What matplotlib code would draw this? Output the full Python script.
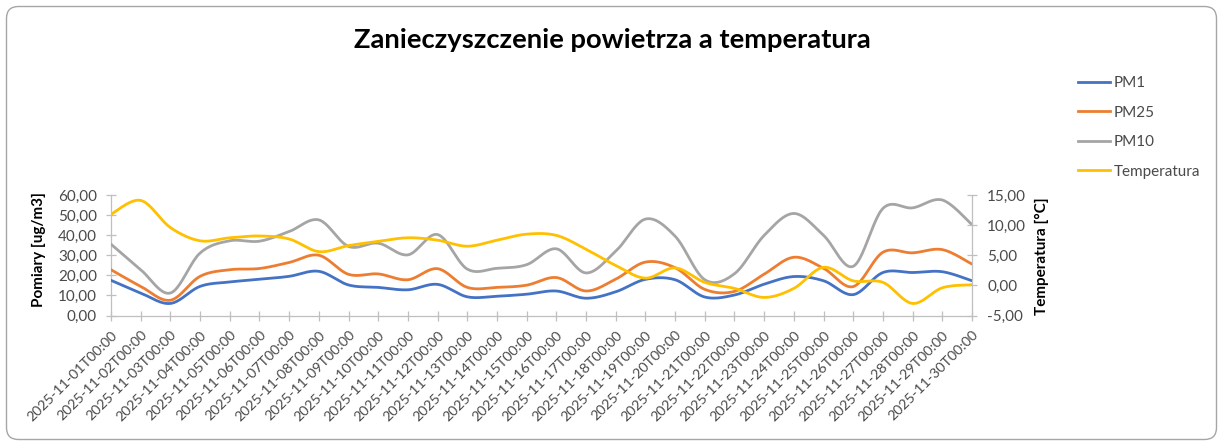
import numpy as np
import matplotlib
matplotlib.use('Agg')
import matplotlib.pyplot as plt
from matplotlib.patches import FancyBboxPatch
from matplotlib.transforms import IdentityTransform, ScaledTranslation
from matplotlib.lines import Line2D
from matplotlib.ticker import FuncFormatter

plt.rcParams['font.family'] = ['Lato', 'DejaVu Sans']

dates = ["2025-11-01T00:00", "2025-11-02T00:00", "2025-11-03T00:00", "2025-11-04T00:00",
         "2025-11-05T00:00", "2025-11-06T00:00", "2025-11-07T00:00", "2025-11-08T00:00",
         "2025-11-09T00:00", "2025-11-10T00:00", "2025-11-11T00:00", "2025-11-12T00:00",
         "2025-11-13T00:00", "2025-11-14T00:00", "2025-11-15T00:00", "2025-11-16T00:00",
         "2025-11-17T00:00", "2025-11-18T00:00", "2025-11-19T00:00", "2025-11-20T00:00",
         "2025-11-21T00:00", "2025-11-22T00:00", "2025-11-23T00:00", "2025-11-24T00:00",
         "2025-11-25T00:00", "2025-11-26T00:00", "2025-11-27T00:00", "2025-11-28T00:00",
         "2025-11-29T00:00", "2025-11-30T00:00"]

pm1 = [17.5, 11.2, 6.0, 14.5, 16.7, 18.0, 19.5, 22.0, 15.2, 14.0,
       12.8, 15.5, 9.3, 9.6, 10.6, 12.2, 8.6, 11.8, 18.0, 17.8,
       9.2, 10.2, 15.6, 19.4, 17.3, 10.4, 21.4, 21.4, 21.8, 17.3]
pm25 = [22.8, 14.5, 7.6, 19.5, 22.8, 23.4, 26.4, 30.0, 20.5, 20.7,
        17.8, 23.3, 14.0, 14.0, 15.1, 18.9, 12.2, 18.1, 26.6, 23.8,
        13.0, 12.0, 20.6, 29.0, 23.5, 14.4, 31.5, 31.2, 32.8, 25.6]
pm10 = [35.5, 22.8, 11.2, 31.1, 37.2, 37.0, 41.8, 47.6, 34.4, 36.0,
        30.2, 40.3, 23.1, 23.5, 25.3, 33.2, 21.2, 32.0, 48.0, 39.5,
        17.8, 20.8, 39.9, 50.8, 39.9, 24.5, 53.3, 53.6, 57.5, 45.2]
temp = [11.8, 14.1, 9.6, 7.4, 7.9, 8.2, 7.7, 5.6, 6.6, 7.3,
        7.9, 7.5, 6.5, 7.5, 8.5, 8.3, 6.0, 3.3, 1.2, 2.9,
        0.5, -0.5, -2.0, -0.5, 3.0, 0.75, 0.5, -3.0, -0.4, 0.1]

series_names = ["PM1", "PM25", "PM10", "Temperatura"]
colors = ["#4472C4", "#ED7D31", "#A5A5A5", "#FFC000"]


def smooth(vals, steps=24):
    """Catmull-Rom style Bezier smoothing (like Excel 'smoothed line')."""
    y = np.asarray(vals, float)
    x = np.arange(len(y), dtype=float)
    n = len(y)
    t = np.linspace(0, 1, steps)[:, None]
    out = []
    for i in range(n - 1):
        p0 = np.array([x[max(i - 1, 0)], y[max(i - 1, 0)]])
        p1 = np.array([x[i], y[i]])
        p2 = np.array([x[i + 1], y[i + 1]])
        p3 = np.array([x[min(i + 2, n - 1)], y[min(i + 2, n - 1)]])
        c1 = p1 + (p2 - p0) / 6.0
        c2 = p2 - (p3 - p1) / 6.0
        seg = ((1 - t) ** 3) * p1 + 3 * ((1 - t) ** 2) * t * c1 + 3 * (1 - t) * t ** 2 * c2 + t ** 3 * p2
        out.append(seg if i == 0 else seg[1:])
    pts = np.vstack(out)
    return pts[:, 0], pts[:, 1]


W, H = 1224, 443
fig = plt.figure(figsize=(W / 100, H / 100), dpi=100)
fig.patch.set_facecolor('white')

# rounded chart border
border = FancyBboxPatch((6.5, 3.5), 1210, 433, boxstyle="round,pad=0,rounding_size=12",
                        transform=IdentityTransform(), facecolor='none',
                        edgecolor='#A6A6A6', linewidth=1.0)
fig.patches.append(border)

x0, x1 = 111, 972
y_top, y_bot = 195, 315.5
ax = fig.add_axes([x0 / W, 1 - y_bot / H, (x1 - x0) / W, (y_bot - y_top) / H])
ax2 = ax.twinx()

idx = np.arange(len(dates))
handles = []
for vals, c, name in zip([pm1, pm25, pm10], colors[:3], series_names[:3]):
    sx, sy = smooth(vals)
    ax.plot(sx, sy, color=c, lw=2.0, solid_capstyle='round', zorder=3)
    handles.append(Line2D([0], [0], color=c, lw=2.0))
sx, sy = smooth(temp)
ax2.plot(sx, sy, color=colors[3], lw=2.0, solid_capstyle='round', zorder=3)
handles.append(Line2D([0], [0], color=colors[3], lw=2.0))

ax.set_xlim(0, len(dates) - 1)
ax.set_ylim(0, 60)
ax2.set_ylim(-5, 15)
ax.set_yticks(np.arange(0, 61, 10))
ax2.set_yticks(np.arange(-5, 16, 5))
fmt = FuncFormatter(lambda v, p: f"{v:.2f}".replace('.', ','))
ax.yaxis.set_major_formatter(fmt)
ax2.yaxis.set_major_formatter(fmt)
ax.set_xticks(idx)
ax.set_xticklabels(dates, rotation=45, ha='right', va='top', rotation_mode='anchor')
shift = ScaledTranslation(-3 / 100, 0, fig.dpi_scale_trans)
for lbl in ax.get_xticklabels():
    lbl.set_transform(lbl.get_transform() + shift)

axis_col = '#BFBFBF'
lab_col = '#4A4A4A'
for a in (ax, ax2):
    for s in a.spines.values():
        s.set_color(axis_col)
        s.set_linewidth(0.9)
    a.spines['top'].set_visible(False)
ax.spines['right'].set_visible(False)
ax2.spines['left'].set_visible(False)
ax2.spines['bottom'].set_visible(False)

ax.tick_params(axis='y', direction='inout', length=7, width=0.9, color=axis_col,
               labelcolor=lab_col, labelsize=11, pad=6.5)
ax.tick_params(axis='x', direction='inout', length=7, width=0.9, color=axis_col,
               labelcolor=lab_col, labelsize=10.3, pad=6)
ax2.tick_params(axis='y', direction='inout', length=7, width=0.9, color=axis_col,
                labelcolor=lab_col, labelsize=11, pad=7.5)
ax.set_facecolor('none')

fig.text(612 / W, 1 - 40 / H, "Zanieczyszczenie powietrza a temperatura",
         ha='center', va='center', fontsize=19.7, fontweight='bold', color='black')
fig.text(39 / W, 1 - 250 / H, "Pomiary [ug/m3]", rotation=90, ha='center', va='center',
         fontsize=11, fontweight='bold', color='black')
fig.text(1042 / W, 1 - 256 / H, "Temperatura [°C]", rotation=90, ha='center', va='center',
         fontsize=11, fontweight='bold', color='black')

fig.legend(handles, series_names, loc='upper left', bbox_to_anchor=(1078 / W, 1 - 76 / H),
           frameon=False, fontsize=11, handlelength=2.1, handletextpad=0.25,
           labelspacing=1.02, borderpad=0, borderaxespad=0, labelcolor=lab_col)

fig.savefig('out.png', dpi=100, facecolor='white')
